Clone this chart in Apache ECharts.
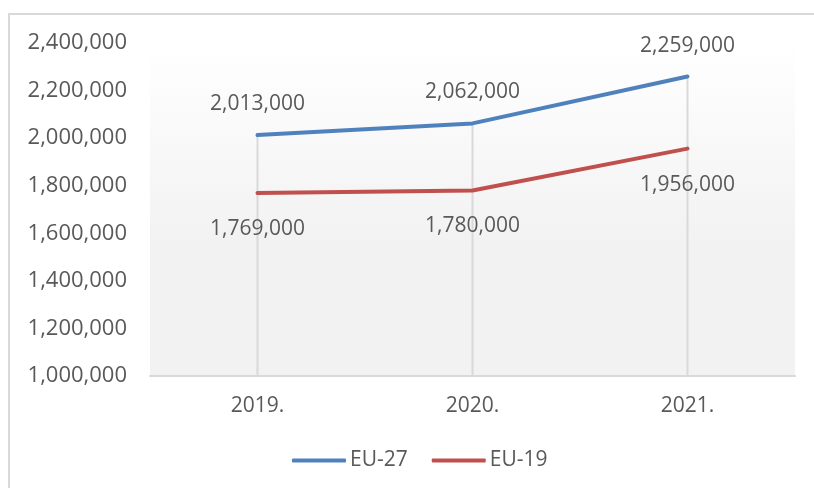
<!DOCTYPE html>
<html>
<head>
<meta charset="utf-8">
<script src="https://cdn.jsdelivr.net/npm/echarts@6/dist/echarts.min.js"></script>
<style>
html,body{margin:0;padding:0;background:#fff;overflow:hidden}
#c{width:814px;height:488px}
</style>
</head>
<body>
<div id="c"></div>
<script>
const categories = ['2019.', '2020.', '2021.'];
const eu27 = [2013000, 2062000, 2259000];
const eu19 = [1769000, 1780000, 1956000];
const yMin = 1000000, yMax = 2400000, yStep = 200000;

const FONT = 'Open Sans';
const TXT = '#595959';
const fmt = v => v.toLocaleString('en-US');

const chart = echarts.init(document.getElementById('c'));
chart.setOption({
  animation: false,
  textStyle: { fontFamily: FONT },
  graphic: [{
    type: 'rect', silent: true, z: -10,
    shape: { x: 9, y: 14, width: 900, height: 600 },
    style: { fill: 'none', stroke: '#d9d9d9', lineWidth: 2 }
  }],
  grid: {
    left: 150, right: 19, top: 43, bottom: 112,
    show: true, borderWidth: 0,
    backgroundColor: new echarts.graphic.LinearGradient(0, 0, 0, 1, [
      { offset: 0, color: '#ffffff' },
      { offset: 0.6, color: '#f2f2f2' },
      { offset: 1, color: '#f2f2f2' }
    ])
  },
  legend: {
    bottom: 12, left: 287,
    data: ['EU-27', 'EU-19'],
    icon: 'roundRect', itemWidth: 54, itemHeight: 4, itemGap: 24,
    textStyle: { color: TXT, fontSize: 21, fontFamily: FONT, padding: [0,0,0,-1] }
  },
  xAxis: {
    type: 'category', data: categories, boundaryGap: true,
    axisLine: { lineStyle: { color: '#d9d9d9', width: 2 } },
    axisTick: { show: false },
    axisLabel: { color: TXT, fontSize: 21, margin: 20, fontFamily: FONT },
    splitLine: { show: false }
  },
  yAxis: {
    type: 'value', min: yMin, max: yMax, interval: yStep,
    axisLine: { show: false }, axisTick: { show: false },
    splitLine: { show: false },
    axisLabel: { color: TXT, fontSize: 22, margin: 23, fontFamily: FONT, formatter: fmt }
  },
  series: [
    {
      name: 'drop', type: 'bar', data: eu27, barWidth: 2, z: 1,
      itemStyle: { color: '#d9d9d9' }, silent: true
    },
    {
      name: 'EU-27', type: 'line', data: eu27, symbol: 'circle', symbolSize: 1, showSymbol: true, z: 3,
      lineStyle: { color: '#4f81bd', width: 4, cap: 'round' },
      itemStyle: { color: '#4f81bd' },
      label: { show: true, position: 'top', distance: 20, color: TXT, fontSize: 21, fontFamily: FONT, formatter: p => fmt(p.value) }
    },
    {
      name: 'EU-19', type: 'line', data: eu19, symbol: 'circle', symbolSize: 1, showSymbol: true, z: 3,
      lineStyle: { color: '#c0504d', width: 4, cap: 'round' },
      itemStyle: { color: '#c0504d' },
      label: { show: true, position: 'bottom', distance: 25, color: TXT, fontSize: 21, fontFamily: FONT, formatter: p => fmt(p.value) }
    }
  ]
});
</script>
</body>
</html>
